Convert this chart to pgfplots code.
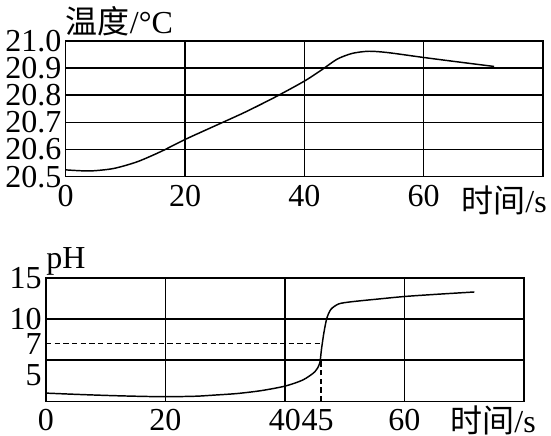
\documentclass[border=0pt]{standalone}
\usepackage{fontspec}
\setmainfont{Liberation Serif}
\newfontfamily\cjk{Noto Sans CJK SC}
\usepackage{pgfplots}
\pgfplotsset{compat=1.18}

\pgfplotsset{
  chart/.style={
    scale only axis,
    axis line style={line width=1.1pt},
    grid style={line width=1.1pt, black},
    major tick length=0pt,
    xmin=0, xmax=80,
    font=\fontsize{24}{26}\selectfont,
    xticklabel style={inner sep=0pt, yshift=-6pt},
    yticklabel style={inner sep=0pt, xshift=-3pt},
    clip=false,
  },
  curve/.style={line width=1.1pt, smooth, tension=0.45},
  guide/.style={line width=1pt, dash pattern=on 4pt off 2.5pt},
}

\begin{document}
\begin{tikzpicture}
\path[use as bounding box] (0,0) rectangle (413.25pt,327pt);

% temperature
\begin{axis}[chart,
  at={(49.3pt,194.5pt)}, anchor=south west,
  width=358pt, height=101.8pt,
  ymin=20.5, ymax=21.0,
  xtick={0,20,40,60}, xticklabels={0,20,40,60},
  ytick={20.5,20.6,20.7,20.8,20.9,21.0},
  yticklabels={20.5,20.6,20.7,20.8,20.9,21.0},
  xmajorgrids, ymajorgrids,
  every axis y label/.style={at={(rel axis cs:0,1)}, anchor=west, inner sep=0pt, yshift=14.6pt},
  every axis x label/.style={at={(rel axis cs:1,0)}, anchor=east, inner sep=0pt, xshift=3pt, yshift=-17.5pt},
  ylabel={{\cjk 温度}/°C},
  xlabel={{\cjk 时间}/s},
]
\addplot[curve] coordinates {
  (0,20.525) (4,20.521) (8,20.530) (12,20.555) (16,20.593)
  (20,20.637) (25,20.687) (30,20.737) (35,20.792) (40,20.852)
  (43,20.895) (45.5,20.933) (48,20.954) (50.8,20.962) (54,20.957)
  (60,20.939) (66,20.922) (71.8,20.906)
};
\end{axis}

% pH
\begin{axis}[chart,
  at={(34.5pt,26pt)}, anchor=south west,
  width=358.5pt, height=92.5pt,
  ymin=0, ymax=15,
  xtick={0,20,40,60}, xticklabels={0,20,40,60},
  extra x ticks={45}, extra x tick labels={45},
  extra x tick style={grid=none, xticklabel style={xshift=2pt}},
  ytick={5,10,15}, yticklabels={\smash{\raisebox{-19pt}{5}},10,15},
  extra y ticks={7}, extra y tick labels={7},
  extra y tick style={grid=none},
  xmajorgrids, ymajorgrids,
  every axis y label/.style={at={(rel axis cs:0,1)}, anchor=west, inner sep=0pt, yshift=12.75pt},
  every axis x label/.style={at={(rel axis cs:1,0)}, anchor=east, inner sep=0pt, xshift=9pt, yshift=-14pt},
  ylabel={pH},
  xlabel={{\cjk 时间}/s},
]
\addplot[guide] coordinates {(0,7) (46.2,7)};
\addplot[guide] coordinates {(46,0) (46,5)};
\addplot[curve] coordinates {
  (0,1.0) (5,0.85) (10,0.72) (15,0.62) (20,0.56) (25,0.62) (28,0.75)
  (32,0.95) (36,1.3) (40,1.85) (43,2.6) (45,3.6) (45.8,4.6) (46.1,6.3)
  (46.5,8.3) (47,10.1) (47.7,11.2) (49,11.85) (51,12.1) (55,12.4)
  (60,12.75) (65,13.0) (71.7,13.3)
};
\end{axis}
\end{tikzpicture}
\end{document}
